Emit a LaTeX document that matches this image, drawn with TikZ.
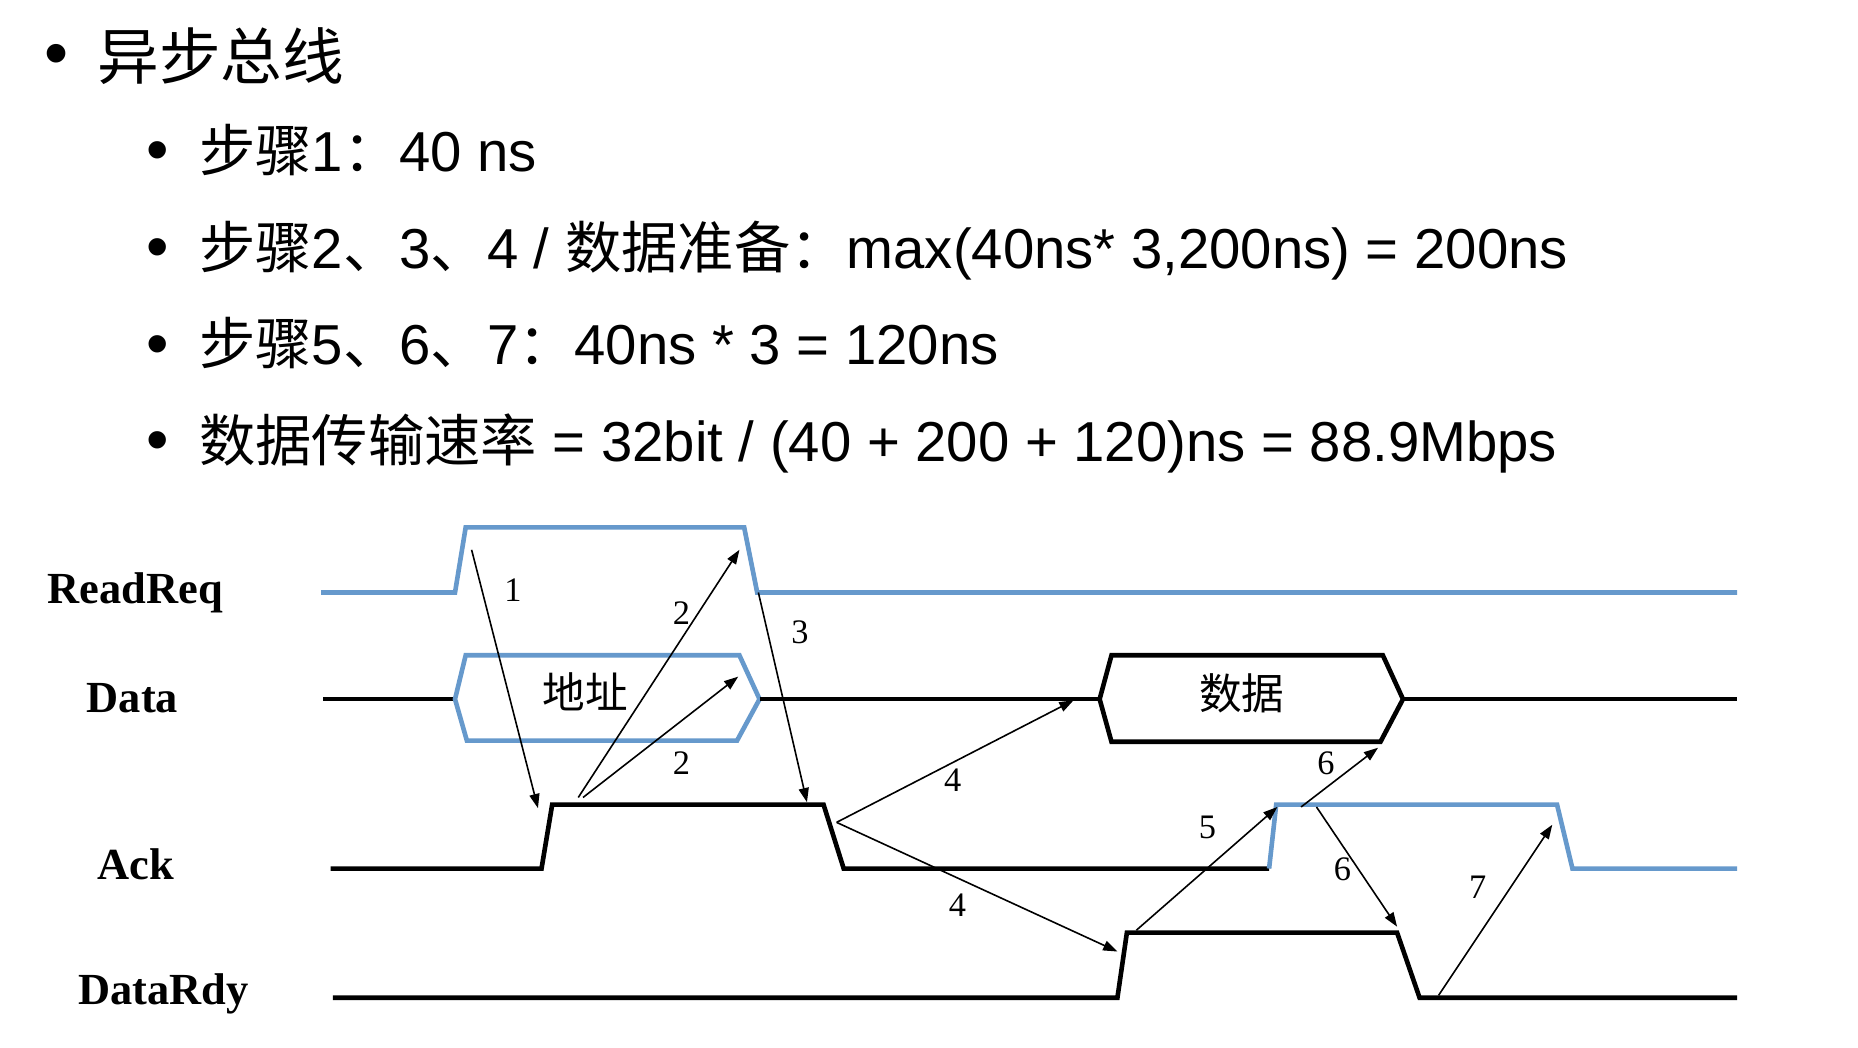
\documentclass[tikz,border=0pt]{standalone}
\usepackage{fontspec}
\setmainfont{Liberation Sans}
\newfontfamily\cjk{Noto Sans CJK SC}
\newfontfamily\tnr{Liberation Serif}
\usetikzlibrary{arrows.meta}
\definecolor{sigblue}{RGB}{102,153,204}
\begin{document}
\begin{tikzpicture}[x=1pt,y=-1pt,
  sig/.style={line width=3.9pt},
  bsig/.style={sig,draw=sigblue},
  ksig/.style={sig,draw=black},
  arr/.style={line width=1.35pt,-{Triangle[length=12pt,width=8.5pt]}},
  num/.style={font=\tnr\fontsize{29}{30}\selectfont,inner sep=0pt},
  lbl/.style={font=\tnr\bfseries\fontsize{37.5}{40}\selectfont,inner sep=0pt,anchor=base west},
  txtline/.style={font=\fontsize{47.5}{56}\selectfont,inner sep=0pt,anchor=base west},
  bul/.style={font=\fontsize{54}{60}\selectfont,inner sep=0pt},
  cjklbl/.style={font=\cjk\fontsize{36}{40}\selectfont,inner sep=0pt}]
\useasboundingbox (0,0) rectangle (1568,884);
\fill[white] (0,0) rectangle (1568,884);

% ---- bullet text ----
\node[bul,font=\fontsize{58}{64}\selectfont] (b0) at (48,51) {•};
\node[txtline,font=\cjk\fontsize{52}{60}\selectfont] (t0) at (82,67) {异步总线};
\node[bul] (b1) at (133.4,132.5) {•};
\node[txtline] (t1) at (168,145) {{\cjk 步骤}1{\cjk ：}40 ns};
\node[bul] (b2) at (133.4,214) {•};
\node[txtline] (t2) at (168,226.5) {{\cjk 步骤}2{\cjk 、}3{\cjk 、}4 / {\cjk 数据准备：}max(40ns* 3,200ns) = 200ns};
\node[bul] (b3) at (133.4,295.5) {•};
\node[txtline] (t3) at (168,308) {{\cjk 步骤}5{\cjk 、}6{\cjk 、}7{\cjk ：}40ns * 3 = 120ns};
\node[bul] (b4) at (133.4,377) {•};
\node[txtline] (t4) at (168,389.5) {{\cjk 数据传输速率} = 32bit / (40 + 200 + 120)ns = 88.9Mbps};

% ---- signal names ----
\node[lbl] (lReadReq) at (40,509) {ReadReq};
\node[lbl] (lData) at (73,601.7) {Data};
\node[lbl] (lAck) at (82,742.6) {Ack};
\node[lbl] (lDataRdy) at (66,848) {DataRdy};

% ---- waveforms ----
\draw[bsig] (271,500) -- (384,500) -- (393,445) -- (628,445) -- (639,500) -- (1466,500);
% Data
\draw[ksig] (273,590) -- (384,590);
\draw[bsig] (384,590) -- (393,553) -- (624,553) -- (641,590) -- (622,625) -- (394,625) -- cycle;
\draw[ksig] (641,590) -- (928,590);
\draw[ksig] (928,590) -- (938,553) -- (1167,553) -- (1184,590) -- (1165,626) -- (938,626) -- cycle;
\draw[ksig] (1184,590) -- (1466,590);
\node[cjklbl] (addr) at (494,584) {地址};
\node[cjklbl] (dat) at (1048,585) {数据};
% Ack
\draw[ksig] (279,733) -- (457,733) -- (466,679) -- (695,679) -- (712,733) -- (1071,733);
\draw[bsig] (1071,733) -- (1077,679) -- (1314,679) -- (1327,733) -- (1466,733);
% DataRdy
\draw[ksig] (281,842) -- (943,842) -- (951,787) -- (1179,787) -- (1198,842) -- (1466,842);

% ---- arrow end points ----
\coordinate (a1s) at (398,464);  \coordinate (a1e) at (454,682);
\coordinate (a2s) at (488,673);  \coordinate (a2e) at (624,464);
\coordinate (a2bs) at (492,673); \coordinate (a2be) at (623,571);
\coordinate (a3s) at (640,500);  \coordinate (a3e) at (681,677);
\coordinate (a4s) at (706,694);  \coordinate (a4e) at (906,591);
\coordinate (a4be) at (943,803);
\coordinate (a5s) at (959,785);  \coordinate (a5e) at (1078,681);
\coordinate (a6s) at (1098,681); \coordinate (a6e) at (1163,631);
\coordinate (a6bs) at (1111,681); \coordinate (a6be) at (1179,782);
\coordinate (a7s) at (1214,840); \coordinate (a7e) at (1310,696);

\draw[arr] (a1s) -- (a1e);
\draw[arr] (a2s) -- (a2e);
\draw[arr] (a2bs) -- (a2be);
\draw[arr] (a3s) -- (a3e);
\draw[arr] (a4s) -- (a4e);
\draw[arr] (a4s) -- (a4be);
\draw[arr] (a5s) -- (a5e);
\draw[arr] (a6s) -- (a6e);
\draw[arr] (a6bs) -- (a6be);
\draw[arr] (a7s) -- (a7e);

% ---- step numbers ----
\node[num] (n1) at (433,498) {1};
\node[num] (n2a) at (575,517) {2};
\node[num] (n2b) at (575,644) {2};
\node[num] (n3) at (675,534) {3};
\node[num] (n4a) at (804,658) {4};
\node[num] (n4b) at (808,764) {4};
\node[num] (n5) at (1019,698) {5};
\node[num] (n6a) at (1119,644) {6};
\node[num] (n6b) at (1133,734) {6};
\node[num] (n7) at (1247,749) {7};
\end{tikzpicture}
\end{document}
